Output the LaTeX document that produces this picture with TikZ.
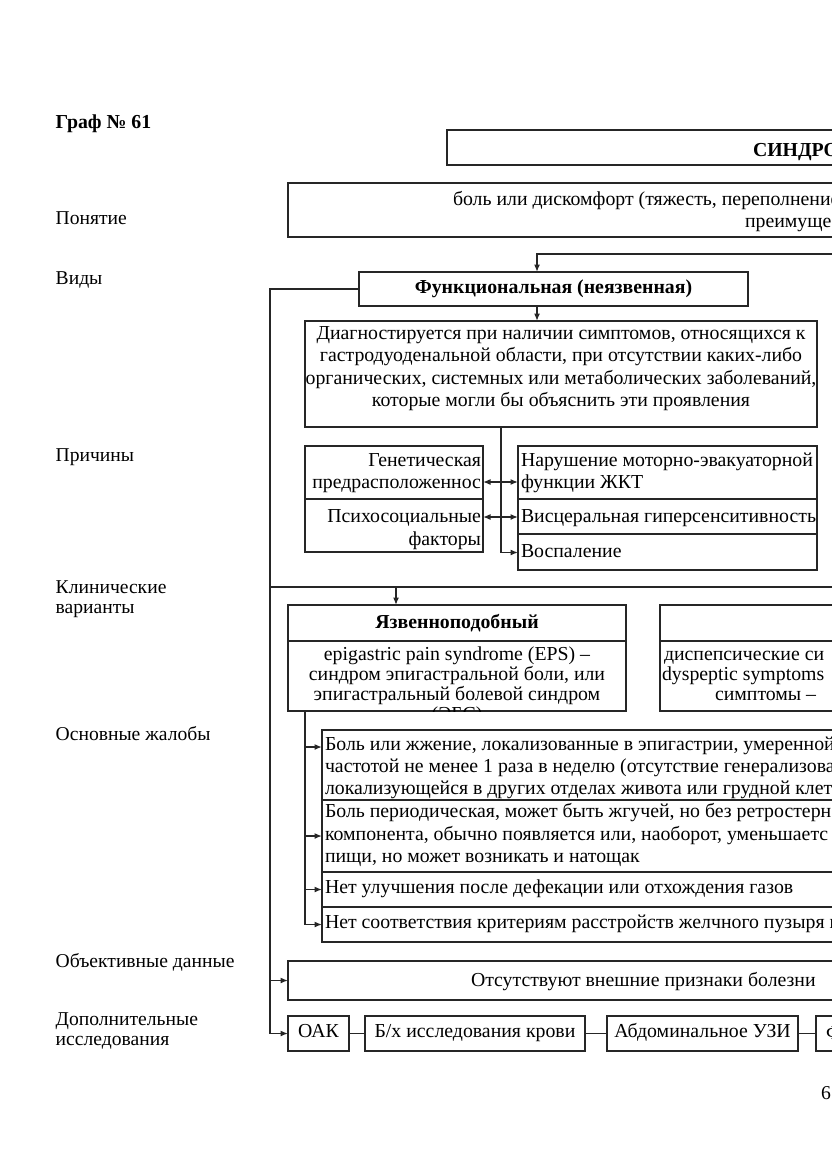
\documentclass[tikz,border=0pt]{standalone}
\usepackage{fontspec}
\setmainfont{Liberation Serif}
\usetikzlibrary{arrows.meta}
\begin{document}
\begin{tikzpicture}[x=1pt,y=-1pt,
 bx/.style={draw=black!85, line width=1.4pt, inner sep=0pt, outer sep=0pt, anchor=north west},
 ln/.style={draw=black!85, line width=1.4pt},
 arr/.style={ln, -{Latex[length=7.5pt,width=6pt]}},
 darr/.style={ln, {Latex[length=7.5pt,width=6pt]}-{Latex[length=7.5pt,width=6pt]}},
 tx/.style={inner sep=0pt, outer sep=0pt, font=\fontsize{19.8}{22.5}\selectfont},
 tb/.style={inner sep=0pt, outer sep=0pt, font=\fontsize{19.8}{22.5}\selectfont\bfseries},
 lb/.style={inner sep=0pt, anchor=base west, font=\fontsize{19.6}{20}\selectfont},
 cbox/.style={tx, text height=13pt, text depth=4.5pt},
]
\useasboundingbox[fill=white] (0,0) rectangle (831,1174);

% left labels
\node[lb, font=\fontsize{19.8}{20}\selectfont\bfseries] (graf) at (55.5,129) {Граф № 61};
\node[lb] (l1) at (55.5,225) {Понятие};
\node[lb] (l2) at (55.5,284) {Виды};
\node[lb] (l3) at (55.5,461) {Причины};
\node[lb] (l4a) at (55.5,593) {Клинические};
\node[lb] (l4b) at (55.5,613) {варианты};
\node[lb] (l5) at (55.5,740) {Основные жалобы};
\node[lb] (l6) at (55.5,967) {Объективные данные};
\node[lb] (l7a) at (55.5,1025) {Дополнительные};
\node[lb] (l7b) at (55.5,1045) {исследования};
\node[lb] (page) at (821,1099) {6};

% title and concept
\node[bx, minimum width=600pt, minimum height=35pt] (sind) at (447,130) {};
\node[tb, anchor=base west] (sindt) at (753,157) {СИНДРОМ};
\node[bx, minimum width=700pt, minimum height=54pt] (pon) at (288,183) {};
\node[tx, anchor=base west] (pon1) at (453,206) {боль или дискомфорт (тяжесть, переполнение};
\node[tx, anchor=base west] (pon2) at (745,228) {преимущественно};

% functional
\coordinate (sr) at (850,254);
\coordinate (fx) at (537,0);
\node[bx, tb, minimum width=389pt, minimum height=34pt] (func) at (359,272) {Функциональная (неязвенная)};
\draw[arr] (sr) -| (fx |- func.north);

\node[bx, minimum width=512pt, minimum height=106pt] (diag) at (305,321) {};
\foreach \t [count=\i] in {{Диагностируется при наличии симптомов, относящихся к},{гастродуоденальной области, при отсутствии каких-либо},{органических, системных или метаболических заболеваний,},{которые могли бы объяснить эти проявления}}
  \node[tx, anchor=base] (dg\i) at (561, 316.5+22.6*\i) {\t};
\draw[arr] (fx |- func.south) -- (fx |- diag.north);

% causes
\node[bx, minimum width=178pt, minimum height=53pt] (gen) at (305,446) {};
\node[bx, minimum width=178pt, minimum height=53pt] (psy) at (305,499) {};
\node[bx, minimum width=299pt, minimum height=53pt] (nar) at (518,446) {};
\node[bx, minimum width=299pt, minimum height=35pt] (vis) at (518,499) {};
\node[bx, minimum width=299pt, minimum height=36pt] (vos) at (518,534) {};
\node[tx, anchor=base east] (g1) at (481,466) {Генетическая};
\node[tx, anchor=base east] (g2) at (481,488.5) {предрасположеннос};
\node[tx, anchor=base east] (p1) at (481,522.5) {Психосоциальные};
\node[tx, anchor=base east] (p2) at (481,545) {факторы};
\node[tx, anchor=base west] (n1) at (521,466) {Нарушение моторно-эвакуаторной};
\node[tx, anchor=base west] (n2) at (521,488.5) {функции ЖКТ};
\node[tx, anchor=base west] (v1) at (521,522.5) {Висцеральная гиперсенситивность};
\node[tx, anchor=base west] (o1) at (521,557) {Воспаление};
\coordinate (vx) at (501,0);
\coordinate (ya1) at (0,482);
\coordinate (ya2) at (0,517);
\draw[arr] (vx |- diag.south) |- (vos.west |- 0,552.5);
\draw[darr] (gen.east |- ya1) -- (nar.west |- ya1);
\draw[darr] (psy.east |- ya2) -- (vis.west |- ya2);

% left trunk
\coordinate (L0) at (270,289);
\coordinate (hR) at (850,587);
\coordinate (yx) at (396,0);
\node[bx, cbox, minimum width=61pt, minimum height=35pt] (oak) at (288,1016) {ОАК};
\node[bx, cbox, minimum width=220pt, minimum height=35pt] (bh) at (365,1016) {Б/х исследования крови};
\node[bx, cbox, minimum width=191pt, minimum height=35pt] (uzi) at (607,1016) {Абдоминальное УЗИ};
\node[bx, minimum width=100pt, minimum height=35pt] (fg) at (816,1016) {};
\node[tx, anchor=base west] (fgt) at (826,1039) {ФГДС};
\draw[arr] (func.west) -- (L0) |- (oak.west);
\draw[ln] (L0 |- hR) -- (hR);
\draw[ln] (oak.east) -- (bh.west);
\draw[ln] (bh.east) -- (uzi.west);
\draw[ln] (uzi.east) -- (fg.west);

% clinical variants
\node[bx, tb, minimum width=338pt, minimum height=36pt] (yaz) at (288,605) {Язвенноподобный};
\node[bx, minimum width=338pt, minimum height=70pt] (yazb) at (288,641) {};
\draw[arr] (yx |- hR) -- (yx |- yaz.north);
\begin{scope}
\clip (yazb.north west) rectangle (yazb.south east);
\foreach \t [count=\i] in {{epigastric pain syndrome (EPS) –},{синдром эпигастральной боли, или},{эпигастральный болевой синдром},{(ЭБС)}}
  \node[tx, anchor=base] (ys\i) at (457, 640+20*\i) {\t};
\end{scope}
\node[bx, minimum width=400pt, minimum height=36pt] (dys) at (660,605) {};
\node[bx, minimum width=400pt, minimum height=70pt] (dysb) at (660,641) {};
\node[tx, anchor=base west] (ds1) at (664,660) {диспепсические си};
\node[tx, anchor=base west] (ds2) at (662,680) {dyspeptic symptoms};
\node[tx, anchor=base west] (ds3) at (715,700) {симптомы –};

% complaints
\node[bx, minimum width=600pt, minimum height=70pt] (c1) at (322,730) {};
\node[bx, minimum width=600pt, minimum height=72pt] (c2) at (322,800) {};
\node[bx, minimum width=600pt, minimum height=35pt] (c3) at (322,872) {};
\node[bx, minimum width=600pt, minimum height=35pt] (c4) at (322,907) {};
\foreach \t [count=\i] in {{Боль или жжение, локализованные в эпигастрии, умеренной},{частотой не менее 1 раза в неделю (отсутствие генерализова},{локализующейся в других отделах живота или грудной клет}}
  \node[tx, anchor=base west] (ca\i) at (325, 728+22*\i) {\t};
\foreach \t [count=\i] in {{Боль периодическая, может быть жгучей, но без ретростерн},{компонента, обычно появляется или, наоборот, уменьшаетс},{пищи, но может возникать и натощак}}
  \node[tx, anchor=base west] (cb\i) at (325, 795+22.5*\i) {\t};
\node[tx, anchor=base west] (cc1) at (325,893) {Нет улучшения после дефекации или отхождения газов};
\node[tx, anchor=base west] (cd1) at (325,928) {Нет соответствия критериям расстройств желчного пузыря и};
\coordinate (jx) at (305,0);
\draw[arr] (jx |- yazb.south) |- (c4.west);
\draw[arr] (jx |- 0,747) -- (c1.west |- 0,747);
\draw[arr] (jx |- c2.west) -- (c2.west);
\draw[arr] (jx |- c3.west) -- (c3.west);

% objective
\node[bx, minimum width=600pt, minimum height=39pt] (obj) at (288,961) {};
\node[tx, anchor=base west] (objt) at (471,986) {Отсутствуют внешние признаки болезни};
\draw[arr] (L0 |- obj.west) -- (obj.west);
\end{tikzpicture}
\end{document}
